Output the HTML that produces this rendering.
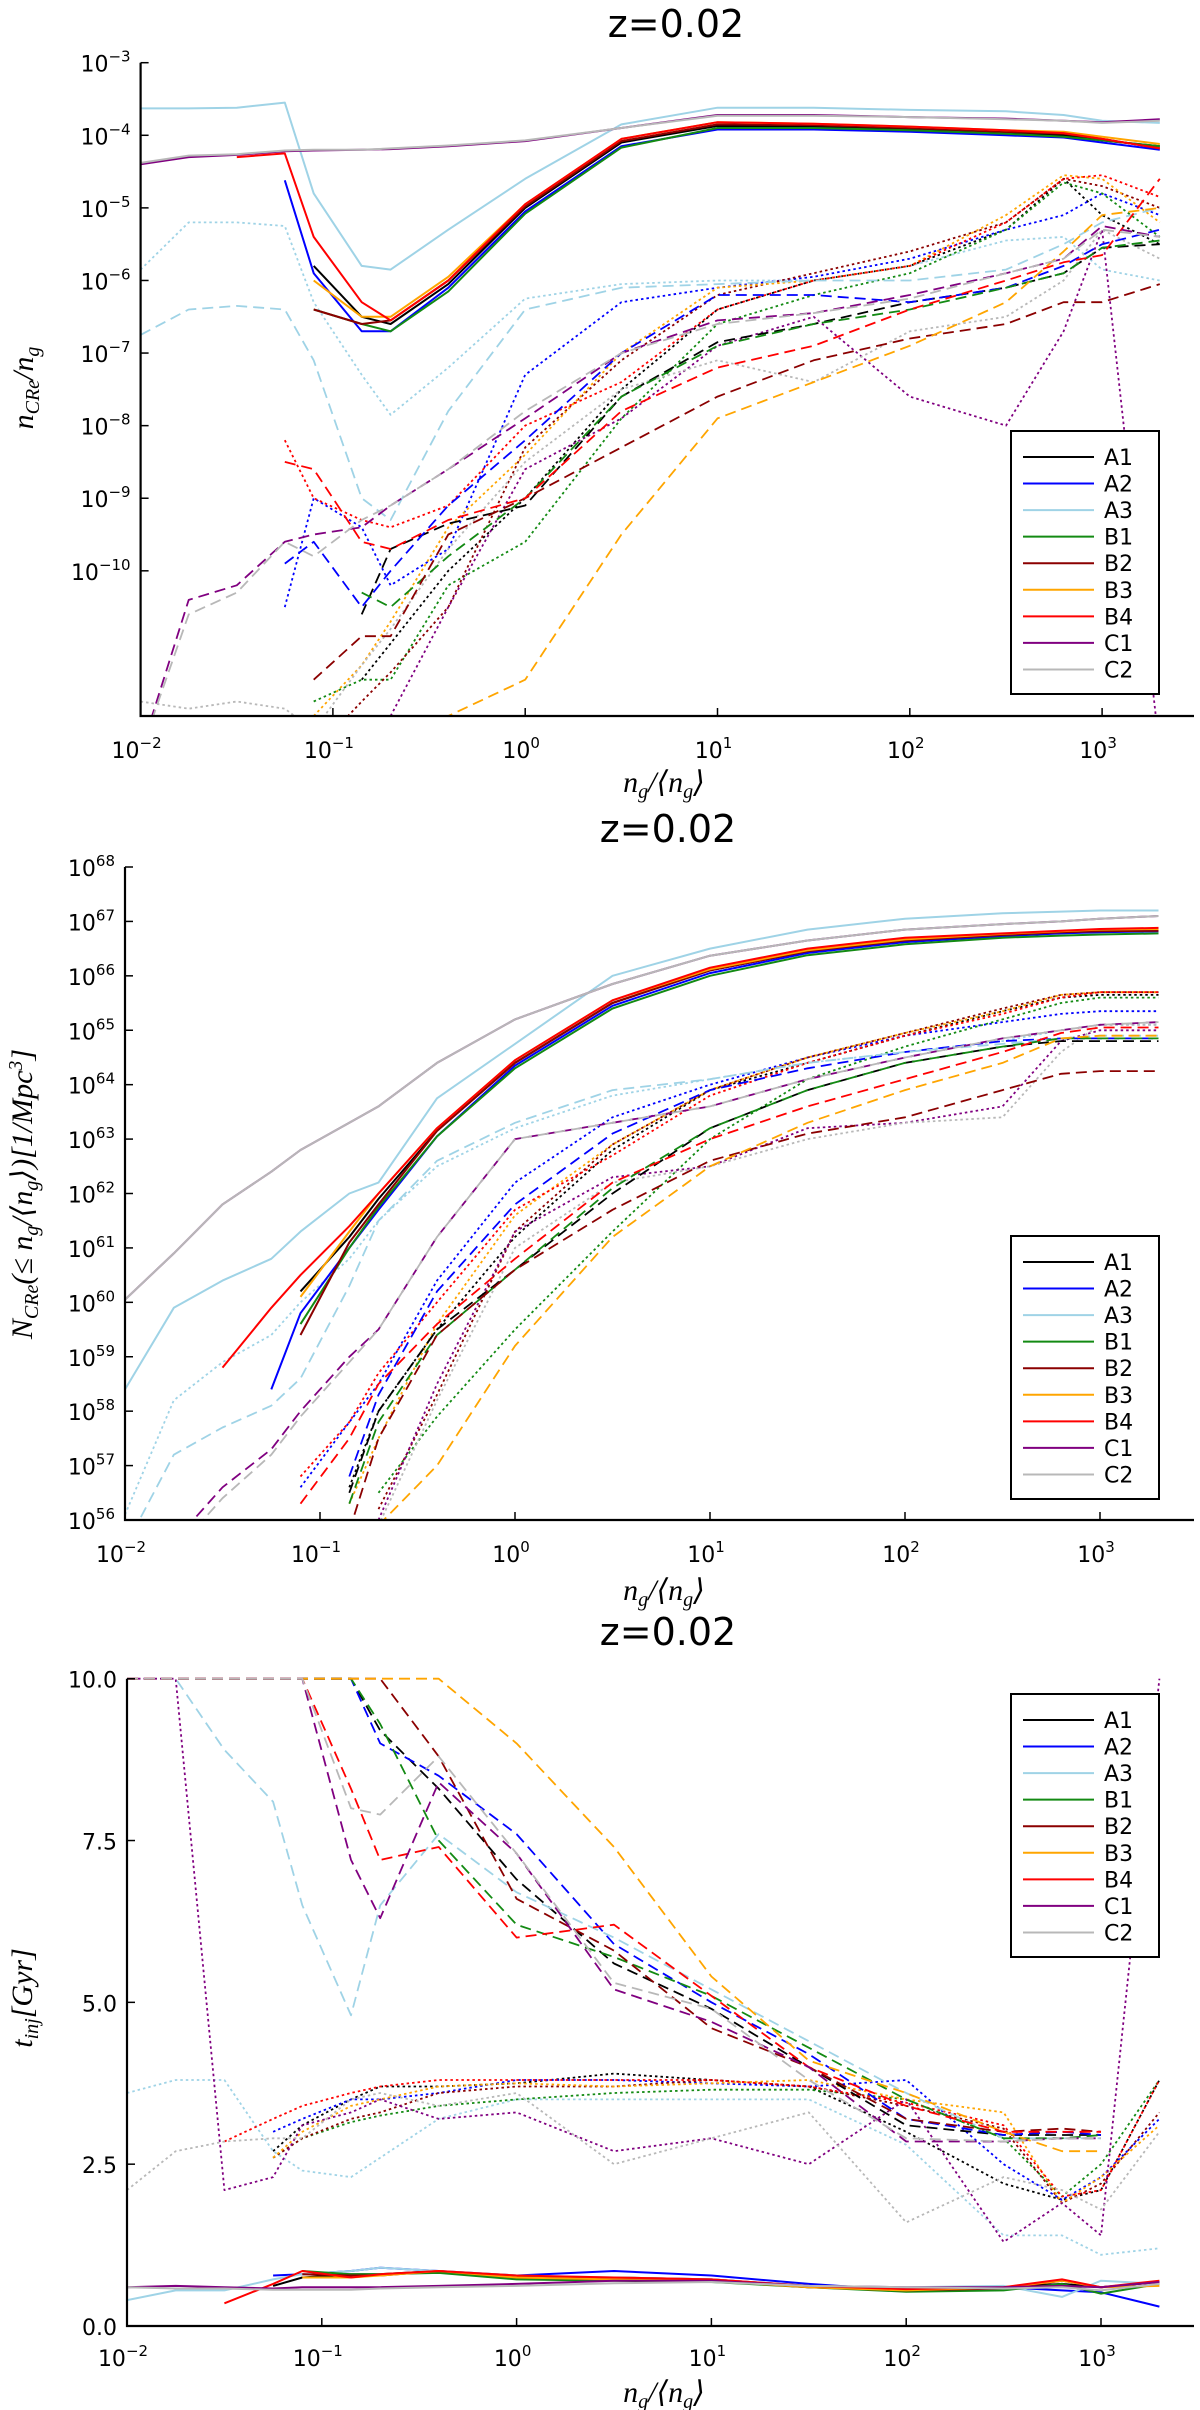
<!DOCTYPE html>
<html><head><meta charset="utf-8"><style>
html,body{margin:0;padding:0;background:#fff}
svg{display:block}
text{font-family:"DejaVu Sans","Liberation Sans",sans-serif;fill:#000}
.math{font-family:"Liberation Serif","DejaVu Serif",serif;font-style:italic}
</style></head><body>
<svg id="fig" width="1200" height="2410" viewBox="0 0 1200 2410" xmlns="http://www.w3.org/2000/svg"></svg>
<script>
// shared x grid (log10 of n_g/<n_g>)
const xGrid = [-2,-1.75,-1.5,-1.25,-1.1,-0.85,-0.7,-0.4,0,0.5,1,1.5,2,2.5,2.8,3,3.3];
const models = ["A1","A2","A3","B1","B2","B3","B4","C1","C2"];
const colors = ["#000000","#0000ff","#9fd3e6","#138a13","#8b0000","#ffa500","#ff0000","#800080","#b8b8b8"];
const n = null;
// Panel 1: log10(n_CRe/n_g)
const p1Solid = [
 [n,n,n,n,-5.8,-6.5,-6.6,-6.05,-5.0,-4.1,-3.87,-3.88,-3.92,-3.97,-4.0,-4.07,-4.15],
 [n,n,n,-4.62,-5.9,-6.7,-6.7,-6.1,-5.05,-4.15,-3.92,-3.92,-3.95,-4.0,-4.03,-4.1,-4.2],
 [-3.63,-3.63,-3.62,-3.55,-4.8,-5.8,-5.85,-5.3,-4.6,-3.85,-3.62,-3.62,-3.65,-3.67,-3.72,-3.8,-3.83],
 [n,n,n,n,-6.4,-6.6,-6.7,-6.15,-5.08,-4.17,-3.9,-3.9,-3.93,-3.98,-4.02,-4.07,-4.15],
 [n,n,n,n,-6.4,-6.6,-6.55,-6.0,-4.98,-4.08,-3.85,-3.86,-3.9,-3.95,-3.98,-4.05,-4.18],
 [n,n,n,n,-6.0,-6.5,-6.5,-5.95,-4.95,-4.05,-3.82,-3.84,-3.88,-3.93,-3.95,-4.02,-4.12],
 [n,n,-4.3,-4.25,-5.4,-6.3,-6.55,-6.0,-4.95,-4.05,-3.82,-3.84,-3.88,-3.93,-3.97,-4.05,-4.18],
 [-4.4,-4.3,-4.27,-4.22,-4.21,-4.2,-4.19,-4.15,-4.08,-3.9,-3.72,-3.72,-3.75,-3.77,-3.8,-3.82,-3.78],
 [-4.38,-4.28,-4.26,-4.21,-4.2,-4.2,-4.18,-4.14,-4.07,-3.9,-3.73,-3.73,-3.75,-3.78,-3.8,-3.83,-3.8]
];
const p1Dash = [
 [n,n,n,n,n,-10.6,-9.7,-9.35,-9.1,-7.6,-6.85,-6.6,-6.3,-6.1,-5.9,-5.55,-5.5],
 [n,n,n,-9.9,-9.6,-10.5,-10.0,-9.1,-8.2,-7.0,-6.2,-6.2,-6.3,-6.1,-5.8,-5.5,-5.3],
 [-6.75,-6.4,-6.35,-6.4,-7.1,-9.0,-9.3,-7.8,-6.4,-6.1,-6.05,-6.0,-6.0,-5.85,-5.5,-5.2,-5.0],
 [n,n,n,n,n,-10.3,-10.5,-9.8,-9.0,-7.6,-6.9,-6.6,-6.4,-6.1,-5.9,-5.55,-5.45],
 [n,n,n,n,-11.5,-10.9,-10.9,-9.5,-9.0,-8.3,-7.6,-7.1,-6.8,-6.6,-6.3,-6.3,-6.05],
 [n,n,n,n,n,n,-12.0,-12.0,-11.5,-9.5,-7.9,-7.4,-6.9,-6.3,-5.6,-5.1,-5.0],
 [n,n,n,-8.5,-8.6,-9.6,-9.7,-9.3,-9.0,-7.8,-7.2,-6.9,-6.4,-6.0,-5.75,-5.65,-4.6],
 [-12.5,-10.4,-10.2,-9.6,-9.5,-9.4,-9.1,-8.6,-7.9,-7.0,-6.55,-6.45,-6.2,-5.9,-5.7,-5.25,-5.4],
 [-12.5,-10.6,-10.3,-9.6,-9.8,-9.3,-9.1,-8.6,-7.8,-7.0,-6.6,-6.45,-6.25,-5.9,-5.7,-5.3,-5.4]
];
const p1Dot = [
 [n,n,n,n,n,-11.5,-11.0,-10.0,-9.0,-7.5,-6.4,-6.0,-5.8,-5.3,-4.6,-5.1,-5.5],
 [n,n,n,-10.5,-9.0,-9.4,-10.2,-9.7,-7.3,-6.3,-6.1,-5.95,-5.7,-5.3,-5.1,-4.8,-5.1],
 [-5.85,-5.2,-5.2,-5.25,-6.3,-7.3,-7.85,-7.2,-6.25,-6.05,-6.0,-6.0,-5.8,-5.45,-5.4,-5.85,-6.0],
 [n,n,n,n,-11.8,-11.5,-11.5,-10.2,-9.6,-7.9,-6.6,-6.2,-5.9,-5.3,-4.65,-4.8,-5.4],
 [n,n,n,n,-12.5,-11.8,-11.4,-10.5,-8.3,-7.1,-6.2,-5.9,-5.6,-5.2,-4.6,-4.7,-5.0],
 [n,n,n,n,-12.0,-11.3,-10.7,-9.4,-8.4,-7.0,-6.1,-6.0,-5.8,-5.1,-4.55,-4.6,-5.2],
 [n,n,n,-8.2,-9.0,-9.3,-9.4,-9.1,-8.0,-7.4,-6.4,-6.0,-5.8,-5.2,-4.6,-4.55,-4.85],
 [n,n,n,n,n,n,-12.0,-10.5,-8.6,-7.9,-6.9,-6.5,-7.6,-8.0,-6.7,-5.3,-12.5],
 [-11.8,-11.9,-11.8,-11.9,-12.2,-11.3,-10.8,-9.7,-8.5,-7.5,-7.1,-7.4,-6.7,-6.5,-6.0,-5.3,-5.7]
];
// Panel 2: log10 N_CRe(<= n_g/<n_g>)
const p2Solid = [
 [n,n,n,n,60.2,61.2,61.9,63.15,64.4,65.5,66.1,66.45,66.65,66.75,66.8,66.82,66.83],
 [n,n,n,58.4,59.8,61.0,61.7,63.05,64.35,65.45,66.05,66.42,66.62,66.73,66.78,66.8,66.82],
 [58.4,59.9,60.4,60.8,61.3,62.0,62.2,63.75,64.75,66.0,66.5,66.85,67.05,67.15,67.18,67.2,67.2],
 [n,n,n,n,59.6,61.0,61.75,63.05,64.3,65.4,66.0,66.38,66.58,66.7,66.74,66.76,66.78],
 [n,n,n,n,59.4,61.1,61.8,63.15,64.4,65.5,66.1,66.45,66.65,66.75,66.8,66.82,66.83],
 [n,n,n,n,60.1,61.3,62.0,63.2,64.45,65.55,66.12,66.47,66.67,66.77,66.82,66.85,66.86],
 [n,n,58.8,59.9,60.5,61.4,62.0,63.2,64.45,65.55,66.15,66.5,66.7,66.78,66.83,66.86,66.88],
 [60.05,60.9,61.8,62.4,62.8,63.3,63.6,64.4,65.2,65.85,66.37,66.65,66.85,66.95,67.0,67.05,67.1],
 [60.05,60.9,61.8,62.4,62.8,63.3,63.6,64.4,65.2,65.85,66.37,66.65,66.85,66.95,67.0,67.05,67.1]
];
const p2Dash = [
 [n,n,n,n,n,56.5,58.0,59.5,60.6,62.0,63.2,63.9,64.4,64.7,64.8,64.8,64.8],
 [n,n,n,n,n,56.8,58.3,60.2,61.8,63.1,63.9,64.3,64.6,64.8,64.85,64.85,64.85],
 [55.5,57.2,57.7,58.1,58.6,60.3,61.5,62.6,63.3,63.9,64.1,64.4,64.6,64.75,64.85,64.9,64.9],
 [n,n,n,n,n,56.3,57.8,59.4,60.6,62.1,63.2,63.9,64.4,64.7,64.85,64.85,64.85],
 [n,n,n,n,n,55.8,57.5,59.4,60.6,61.7,62.6,63.1,63.4,63.9,64.2,64.25,64.25],
 [n,n,n,n,n,n,55.9,57.0,59.2,61.2,62.5,63.3,63.9,64.4,64.85,64.9,64.9],
 [n,n,n,n,56.3,57.5,58.5,59.6,60.8,62.2,63.0,63.6,64.1,64.6,64.95,65.05,65.05],
 [n,55.6,56.6,57.3,58.0,59.0,59.5,61.2,63.0,63.3,63.6,64.1,64.5,64.85,65.0,65.1,65.15],
 [n,55.4,56.4,57.2,57.9,58.9,59.5,61.2,63.0,63.3,63.6,64.1,64.5,64.85,65.0,65.1,65.15]
];
const p2Dot = [
 [n,n,n,n,n,56.6,58.0,59.5,61.2,62.8,63.9,64.4,64.9,65.35,65.6,65.65,65.65],
 [n,n,n,n,56.6,57.8,58.5,60.4,62.2,63.4,64.0,64.5,64.9,65.15,65.3,65.35,65.35],
 [56.1,58.2,58.9,59.4,60.0,60.8,61.5,62.5,63.2,63.8,64.1,64.4,64.6,64.8,65.0,65.1,65.1],
 [n,n,n,n,n,n,56.5,57.9,59.5,61.3,63.0,64.1,64.7,65.2,65.5,65.6,65.6],
 [n,n,n,n,n,n,56.2,58.3,61.3,62.9,63.9,64.5,64.95,65.4,65.65,65.7,65.7],
 [n,n,n,n,n,56.3,57.5,59.6,61.6,62.9,63.9,64.5,64.95,65.35,65.65,65.7,65.7],
 [n,n,n,n,56.8,57.8,58.7,60.0,61.7,62.7,63.8,64.4,64.9,65.3,65.6,65.7,65.7],
 [n,n,n,n,n,n,56.0,58.5,61.3,62.3,62.5,63.2,63.3,63.6,64.8,65.0,65.0],
 [n,n,n,n,n,n,55.9,58.2,61.0,62.2,62.5,63.0,63.3,63.4,64.6,65.1,65.1]
];
// Panel 3: t_inj [Gyr]
const p3Solid = [
 [n,n,n,0.62,0.75,0.8,0.8,0.85,0.75,0.75,0.72,0.62,0.57,0.6,0.65,0.6,0.68],
 [n,n,n,0.78,0.8,0.85,0.9,0.85,0.78,0.85,0.78,0.65,0.55,0.6,0.55,0.52,0.3],
 [0.4,0.55,0.55,0.72,0.8,0.85,0.9,0.85,0.78,0.75,0.72,0.62,0.6,0.62,0.45,0.7,0.65],
 [n,n,n,n,0.85,0.8,0.8,0.82,0.72,0.7,0.68,0.6,0.53,0.55,0.65,0.5,0.65],
 [n,n,n,n,0.8,0.78,0.78,0.85,0.75,0.72,0.7,0.6,0.55,0.58,0.7,0.6,0.68],
 [n,n,n,n,0.75,0.75,0.78,0.85,0.75,0.72,0.7,0.6,0.55,0.6,0.7,0.6,0.62],
 [n,n,0.35,0.65,0.85,0.75,0.8,0.85,0.78,0.75,0.72,0.62,0.57,0.6,0.72,0.6,0.7],
 [0.6,0.62,0.6,0.58,0.6,0.6,0.6,0.62,0.65,0.7,0.7,0.62,0.6,0.6,0.62,0.6,0.68],
 [0.6,0.58,0.58,0.56,0.56,0.56,0.58,0.6,0.62,0.66,0.68,0.62,0.6,0.58,0.6,0.55,0.65]
];
const p3Dash = [
 [10,10,10,10,10,10,9.2,8.3,6.9,5.6,4.9,4.0,3.1,2.95,2.95,2.95,n],
 [10,10,10,10,10,10,9.0,8.5,7.6,5.9,5.0,4.2,3.2,2.95,3.0,2.95,n],
 [10,10,8.9,8.1,6.5,4.8,6.5,7.6,6.7,6.0,5.2,4.4,3.6,2.9,2.9,2.9,n],
 [10,10,10,10,10,10,9.3,7.5,6.2,5.7,5.1,4.3,3.5,2.9,2.9,2.95,n],
 [10,10,10,10,10,10,10,8.8,6.6,5.8,4.6,4.0,3.2,3.0,3.05,3.0,n],
 [10,10,10,10,10,10,10,10,9.0,7.4,5.4,4.1,3.6,3.0,2.7,2.7,n],
 [10,10,10,10,10,8.3,7.2,7.4,6.0,6.2,5.1,4.0,3.4,3.0,3.0,3.0,n],
 [10,10,10,10,10,7.2,6.3,8.4,7.3,5.2,4.7,4.0,2.85,2.85,2.9,2.9,n],
 [10,10,10,10,10,8.0,7.9,8.8,7.3,5.3,4.9,3.8,2.9,2.85,2.9,2.9,n]
];
const p3Dot = [
 [n,n,n,2.7,3.1,3.5,3.7,3.7,3.75,3.9,3.8,3.7,3.0,2.2,1.95,2.1,3.8],
 [n,n,n,3.0,3.2,3.5,3.5,3.6,3.8,3.8,3.75,3.7,3.8,2.5,1.95,2.3,3.2],
 [3.6,3.8,3.8,2.7,2.4,2.3,2.6,3.2,3.5,3.5,3.5,3.5,2.8,1.4,1.4,1.1,1.2],
 [n,n,n,2.6,2.9,3.15,3.25,3.4,3.5,3.6,3.65,3.65,3.5,2.9,2.0,2.5,3.8],
 [n,n,n,2.6,2.9,3.2,3.3,3.6,3.7,3.7,3.8,3.7,3.4,3.05,1.9,2.2,3.3],
 [n,n,n,2.6,3.0,3.4,3.5,3.7,3.75,3.7,3.75,3.8,3.5,3.3,1.9,2.3,3.1],
 [n,n,2.85,3.2,3.4,3.6,3.7,3.8,3.8,3.8,3.8,3.7,3.45,3.1,2.0,2.1,3.8],
 [10,10,2.1,2.3,3.1,3.3,3.5,3.2,3.3,2.7,2.9,2.5,3.5,1.3,1.9,1.4,10],
 [2.1,2.7,2.85,2.9,2.9,3.5,3.6,3.4,3.6,2.5,2.9,3.3,1.6,2.3,2.1,1.8,3.0]
];
const xTickExps = [-2,-1,0,1,2,3];
const p1YTicks = [-3,-4,-5,-6,-7,-8,-9,-10];
const p2YTicks = [68,67,66,65,64,63,62,61,60,59,58,57,56];
const p3YTicks = [0,2.5,5,7.5,10];

const NS = "http://www.w3.org/2000/svg";
const svg = document.getElementById("fig");
function el(tag, attrs, parent){
  const e = document.createElementNS(NS, tag);
  for (const k in attrs) e.setAttribute(k, attrs[k]);
  (parent||svg).appendChild(e);
  return e;
}
const dashes = {solid:"", dash:"11 6", dot:"2.5 3"};

function panel(cfg){
  const g = el("g", {});
  
  
  const xs = v => cfg.x0 + (v - cfg.xmin) * cfg.dec;
  const ys = v => cfg.yBot - (v - cfg.ymin) / (cfg.ymax - cfg.ymin) * (cfg.yBot - cfg.yTop);
  const cid = "clip-" + cfg.name;
  const cp = el("clipPath", {id: cid}, g);
  el("rect", {x: cfg.x0, y: cfg.yTop - 2, width: 1194 - cfg.x0, height: cfg.yBot - cfg.yTop + 2}, cp);
  const t = el("text", {x: cfg.titleX, y: cfg.titleY, "text-anchor": "middle", "font-size": 38}, g);
  t.textContent = "z=0.02";
  
  
  const sg = el("g", {"clip-path": "url(#" + cid + ")", fill: "none"}, g);
  const groups = [["dot", cfg.dot], ["dash", cfg.dash], ["solid", cfg.solid]];
  for (const [style, data] of groups) {
    data.forEach((arr, i) => {
      let d = "", pen = false;
      arr.forEach((v, j) => {
        if (v === null) { pen = false; return; }
        d += (pen ? "L" : "M") + xs(xGrid[j]).toFixed(1) + "," + ys(v).toFixed(1);
        pen = true;
      });
      const p = el("path", {d: d, stroke: colors[i], "stroke-width": style === "solid" ? 2 : 1.8, "stroke-dasharray": dashes[style], "stroke-linejoin": "round"}, sg);
      
      
    });
  }
  const ax = el("path", {d: `M${cfg.x0},${cfg.yTop}V${cfg.yBot}H1194`, stroke: "#000", "stroke-width": 2.2, fill: "none"}, g);
  
  
  xTickExps.forEach(e => {
    const x = xs(e);
    el("line", {x1: x, x2: x, y1: cfg.yBot, y2: cfg.yBot - 8, stroke: "#000", "stroke-width": 1.5}, g);
    const tx = el("text", {x: x - 4, y: cfg.xLabY, "text-anchor": "middle", "font-size": 22}, g);
    
    
    tx.appendChild(document.createTextNode("10"));
    const sp = el("tspan", {dy: -10, "font-size": 15}, tx);
    sp.textContent = e < 0 ? "\u2212" + (-e) : String(e);
  });
  cfg.yTicks.forEach(v => {
    const y = ys(v);
    el("line", {x1: cfg.x0, x2: cfg.x0 + 8, y1: y, y2: y, stroke: "#000", "stroke-width": 1.5}, g);
    const ty = el("text", {x: cfg.x0 - 10, y: y + 9, "text-anchor": "end", "font-size": 22}, g);
    
    
    if (cfg.linear) { ty.textContent = v.toFixed(1); }
    else {
      ty.appendChild(document.createTextNode("10"));
      const sp = el("tspan", {dy: -10, "font-size": 15}, ty);
      sp.textContent = v < 0 ? "\u2212" + (-v) : String(v);
    }
  });
  const xl = el("text", {x: 664, y: cfg.xTitleY, "text-anchor": "middle", "font-size": 30, class: "math"}, g);
  
  
  xl.innerHTML = 'n<tspan dy="6" font-size="20">g</tspan><tspan dy="-6">/⟨n</tspan><tspan dy="6" font-size="20">g</tspan><tspan dy="-6">⟩</tspan>';
  const yl = el("text", {x: 0, y: 0, "text-anchor": "middle", "font-size": 30, class: "math", transform: `translate(${cfg.yTitleX},${cfg.yTitleY}) rotate(-90)`}, g);
  
  
  yl.innerHTML = cfg.yTitle;
  const lg = el("g", {}, g);
  
  
  el("rect", {x: 1011, y: cfg.legY, width: 148, height: cfg.legH, fill: "#fff", stroke: "#000", "stroke-width": 2}, lg);
  const step = (cfg.legH - 24) / 9;
  models.forEach((m, i) => {
    const y = cfg.legY + 26 + i * step;
    const ent = el("g", {}, lg);
    
    
    el("line", {x1: 1023, x2: 1094, y1: y, y2: y, stroke: colors[i], "stroke-width": 2}, ent);
    const lt = el("text", {x: 1104, y: y + 8, "font-size": 22}, ent);
    lt.textContent = m;
  });
}

panel({name: "panel-ncre-ratio", x0: 140.6, dec: 192.3, xmin: -2, yTop: 62.7, yBot: 716, ymin: -12, ymax: -3,
  solid: p1Solid, dash: p1Dash, dot: p1Dot, yTicks: p1YTicks, titleX: 676, titleY: 37, xLabY: 758, xTitleY: 792,
  yTitleX: 33, yTitleY: 388, legY: 431, legH: 263,
  yTitle: 'n<tspan dy="6" font-size="20">CRe</tspan><tspan dy="-6">/n</tspan><tspan dy="6" font-size="20">g</tspan>'});
panel({name: "panel-ncre-cumulative", x0: 125, dec: 195, xmin: -2, yTop: 867, yBot: 1520, ymin: 56, ymax: 68,
  solid: p2Solid, dash: p2Dash, dot: p2Dot, yTicks: p2YTicks, titleX: 668, titleY: 842, xLabY: 1562, xTitleY: 1600,
  yTitleX: 32, yTitleY: 1194, legY: 1236, legH: 263,
  yTitle: 'N<tspan dy="6" font-size="20">CRe</tspan><tspan dy="-6">(≤ n</tspan><tspan dy="6" font-size="20">g</tspan><tspan dy="-6">/⟨n</tspan><tspan dy="6" font-size="20">g</tspan><tspan dy="-6">⟩)[1/Mpc</tspan><tspan dy="-10" font-size="20">3</tspan><tspan dy="10">]</tspan>'});
panel({name: "panel-t-inj", x0: 127, dec: 194.8, xmin: -2, yTop: 1678.7, yBot: 2326, ymin: 0, ymax: 10, linear: true,
  solid: p3Solid, dash: p3Dash, dot: p3Dot, yTicks: p3YTicks, titleX: 668, titleY: 1645, xLabY: 2366, xTitleY: 2402,
  yTitleX: 32, yTitleY: 1998, legY: 1694, legH: 263,
  yTitle: 't<tspan dy="6" font-size="20">inj</tspan><tspan dy="-6">[Gyr]</tspan>'});
</script>
</body></html>
